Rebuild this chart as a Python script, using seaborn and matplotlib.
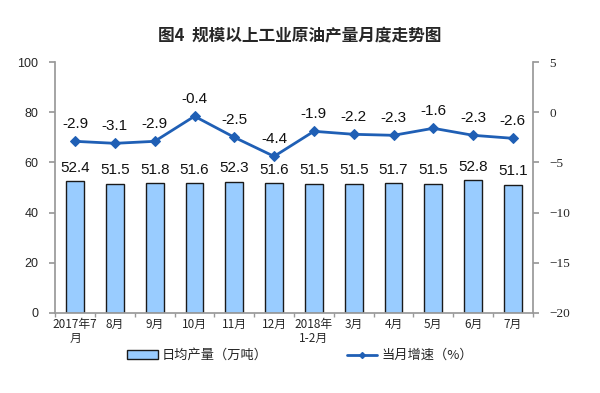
import matplotlib
matplotlib.use("Agg")
import matplotlib.pyplot as plt
import seaborn as sns
import pandas as pd
from matplotlib.patches import Patch
from matplotlib.lines import Line2D

categories = ["2017年7\n月", "8月", "9月", "10月", "11月", "12月", "2018年\n1-2月",
              "3月", "4月", "5月", "6月", "7月"]
output = [52.4, 51.5, 51.8, 51.6, 52.3, 51.6, 51.5, 51.5, 51.7, 51.5, 52.8, 51.1]
growth = [-2.9, -3.1, -2.9, -0.4, -2.5, -4.4, -1.9, -2.2, -2.3, -1.6, -2.3, -2.6]
left_ticks = [0, 20, 40, 60, 80, 100]
right_ticks = [-20, -15, -10, -5, 0, 5]

sns.set_theme(style="white")
plt.rcParams['font.family'] = ['Noto Sans CJK SC', 'DejaVu Sans']

df = pd.DataFrame({"cat": categories, "output": output, "growth": growth, "x": range(len(categories))})

fig = plt.figure(figsize=(6, 3.93), dpi=100)
ax = fig.add_axes([0.092, 0.204, 0.796, 0.638])

sns.barplot(data=df, x="cat", y="output", ax=ax, color="#99CCFF", saturation=1,
            width=0.45, edgecolor="#1a1a1a", linewidth=1.0)
ax.set_ylim(0, 100)
ax.set_yticks(left_ticks)
ax.set_xlim(-0.5, len(categories) - 0.5)
ax.set_xlabel("")
ax.set_ylabel("")
for i, v in enumerate(output):
    ax.text(i, v + 2.5, f"{v:.1f}", ha="center", va="bottom", fontsize=11,
            family=["Liberation Sans"], color="#111111")

ax2 = ax.twinx()
sns.lineplot(data=df, x="x", y="growth", ax=ax2, color="#1F5FB5", linewidth=2,
             marker="D", markersize=5, markeredgecolor="#1F5FB5")
ax2.set_ylim(-20, 5)
ax2.set_yticks(right_ticks)
ax2.set_ylabel("")
ax2.set_xlabel("")
for i, v in enumerate(growth):
    ax2.text(i, v + 1.0, f"{v:.1f}", ha="center", va="bottom", fontsize=11,
             family=["Liberation Sans"], color="#111111")

for a in (ax, ax2):
    for s in a.spines.values():
        s.set_visible(False)
    a.grid(False)

ax.spines["left"].set_visible(True)
ax.spines["left"].set_color("#999999")
ax.spines["bottom"].set_visible(True)
ax.spines["bottom"].set_color("#999999")
ax2.spines["right"].set_visible(True)
ax2.spines["right"].set_color("#999999")

ax.tick_params(axis="y", length=4, color="#999999", direction="out", left=True, labelsize=9, pad=8)
ax2.tick_params(axis="y", length=4, color="#999999", direction="out", right=True, labelsize=9.5, pad=8)
for lab in ax.get_yticklabels():
    lab.set_family(["Liberation Sans"])
for lab in ax2.get_yticklabels():
    lab.set_family(["Liberation Serif"])

ax.set_xticks(range(len(categories)))
ax.set_xticklabels(categories, fontsize=8.5, linespacing=1.1)
ax.tick_params(axis="x", length=0, pad=4)
ax.set_xticks([i + 0.5 for i in range(-1, len(categories))], minor=True)
ax.tick_params(axis="x", which="minor", length=3, color="#999999", bottom=True, direction="out")

fig.suptitle("图4  规模以上工业原油产量月度走势图", x=0.5, y=0.93, fontsize=12, fontweight="bold")

handles = [Patch(facecolor="#99CCFF", edgecolor="#1a1a1a", linewidth=1.0, label="日均产量（万吨）"),
           Line2D([0], [0], color="#1F5FB5", linewidth=2, marker="D", markersize=3, label="当月增速（%）")]
fig.legend(handles=handles, loc="center", bbox_to_anchor=(0.5, 0.095), ncol=2, frameon=False,
           fontsize=9.5, columnspacing=6, handlelength=2.3, handleheight=0.6, handletextpad=0.3)

fig.savefig("out.png", dpi=100)
